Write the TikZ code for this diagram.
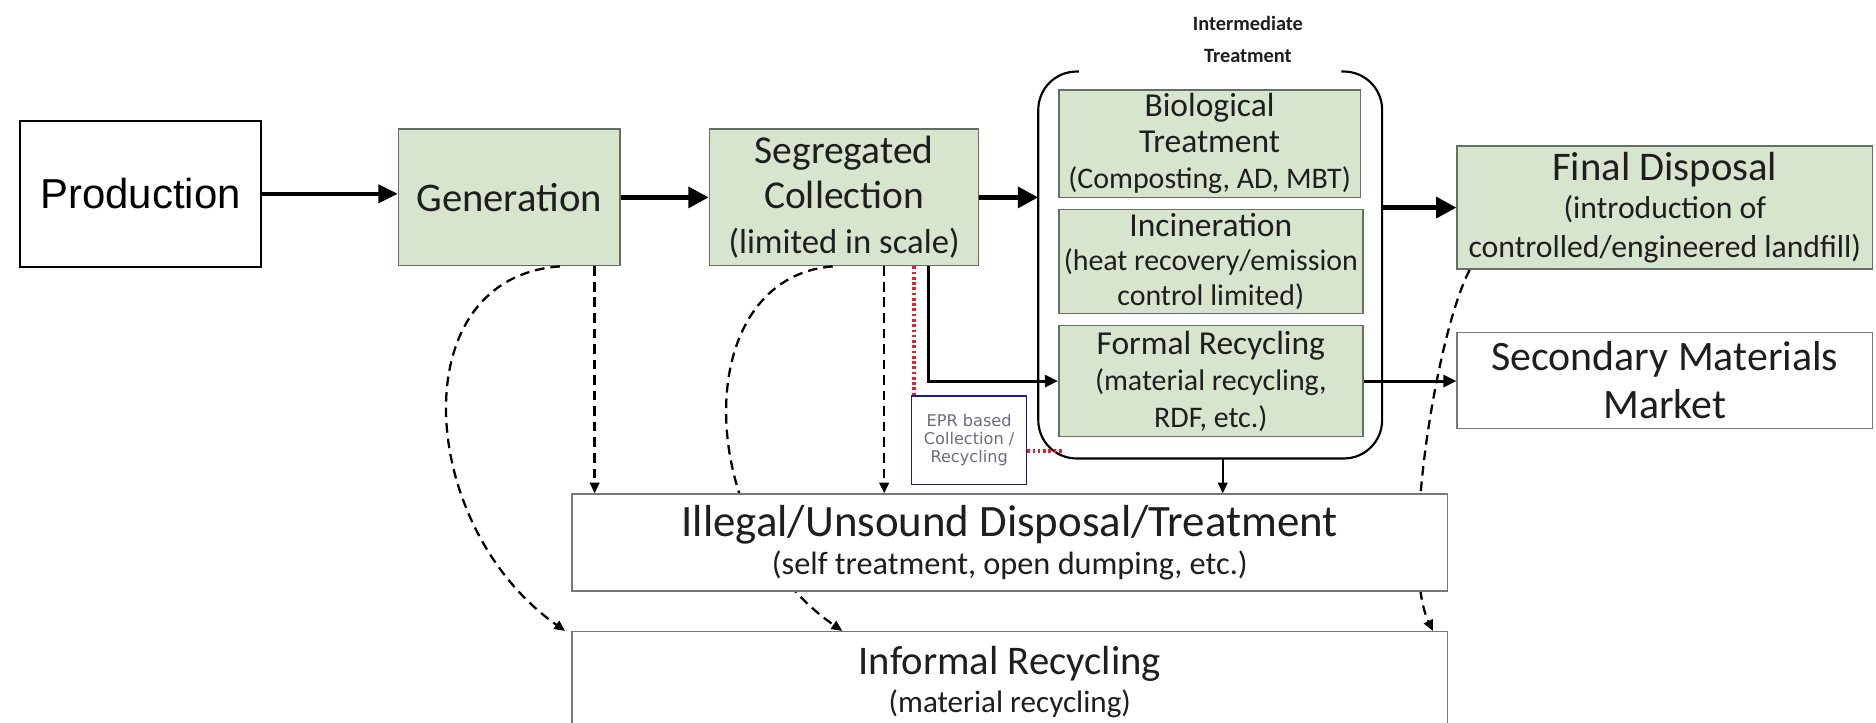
\documentclass[tikz,border=0pt]{standalone}
\usepackage{fontspec}
\setmainfont{Carlito}
\newfontfamily\arialfont{Liberation Sans}
\newfontfamily\eprfont{DejaVu Sans}
\usetikzlibrary{arrows.meta,calc}

\newcommand\setfs[2]{\fontsize{#1}{#2}\selectfont}

\definecolor{boxgreen}{RGB}{216,229,206}
\definecolor{greenedge}{RGB}{100,112,100}
\definecolor{greyedge}{RGB}{120,120,120}
\definecolor{eprblue}{RGB}{25,25,170}
\definecolor{eprred}{RGB}{232,30,45}
\definecolor{eprtext}{RGB}{105,110,125}
\definecolor{ink}{RGB}{30,30,30}

\begin{document}
\begin{tikzpicture}[x=1pt,y=-1pt,
  gbox/.style={draw=greenedge, fill=boxgreen, line width=1.3pt, inner sep=0pt,
    align=center, text=ink},
  wbox/.style={draw=greyedge, fill=white, line width=1.3pt, inner sep=0pt,
    align=center, text=ink},
  bigarrow/.style={line width=4.5pt, -{Triangle[length=17pt,width=17pt]}},
  midarrow/.style={line width=3pt, -{Triangle[length=16pt,width=15pt]}},
  thinarrow/.style={line width=2.4pt, -{Triangle[length=11pt,width=10pt]}},
  smallarrow/.style={line width=1.8pt, -{Triangle[length=9pt,width=8pt]}},
  dsh/.style={line width=1.9pt, dash pattern=on 8pt off 5pt,
    -{Triangle[length=9pt,width=8pt]}},
  eprlink/.style={eprred, line width=2.8pt, dash pattern=on 2.2pt off 2.2pt},
]
\useasboundingbox (0,0) rectangle (1568,604);
\fill[white] (0,0) rectangle (1568,604);

% main chain
\node[draw=black, line width=1.6pt, fill=white, minimum width=201pt, minimum height=122pt,
  inner sep=0pt, font=\arialfont\setfs{35}{40}] (Production) at (117.5,162) {Production};
\node[gbox, minimum width=185pt, minimum height=114pt, font=\setfs{34}{38}]
  (Generation) at (425.5,165) {Generation};
\node[gbox, minimum width=225pt, minimum height=114pt, font=\setfs{33}{37.5}]
  (Segregated) at (705.5,165) {Segregated\\Collection\\\fontsize{29}{37.5}\selectfont(limited in scale)};

% intermediate treatment group
\node[minimum width=287pt, minimum height=323pt, inner sep=0pt] (cont) at (1011.5,221.5) {};
\draw[line width=1.8pt, rounded corners=32pt]
  ($(cont.north west)+(34,0)$) -- (cont.north west) -- (cont.south west)
  -- (cont.south east) -- (cont.north east) -- ($(cont.north east)+(-34,0)$);
\node[font=\bfseries\setfs{17}{26}, align=center, text=ink] (itlabel) at (1043,33)
  {Intermediate\\Treatment};

\node[gbox, minimum width=252pt, minimum height=90pt, font=\setfs{28}{30}]
  (Biological) at (1011,120) {Biological\\Treatment\\\fontsize{25}{30}\selectfont(Composting, AD, MBT)};
\node[gbox, minimum width=254pt, minimum height=87pt, font=\setfs{28}{29}]
  (Incineration) at (1012,218.5) {Incineration\\\fontsize{25}{29}\selectfont(heat recovery/emission\\\fontsize{25}{29}\selectfont control limited)};
\node[gbox, minimum width=254pt, minimum height=93pt, font=\setfs{28}{30.5}]
  (Formal) at (1012,318.5) {Formal Recycling\\\fontsize{25}{30.5}\selectfont(material recycling,\\\fontsize{25}{30.5}\selectfont RDF, etc.)};

% right column
\node[gbox, minimum width=347pt, minimum height=103pt, font=\setfs{34}{32}]
  (Final) at (1391.5,173.5) {Final Disposal\\\fontsize{26.5}{30}\selectfont(introduction of\\\fontsize{26.5}{30}\selectfont controlled/engineered landfill)};
\node[wbox, minimum width=347pt, minimum height=80pt, font=\setfs{35}{40}]
  (Secondary) at (1391.5,318) {Secondary Materials\\Market};

% EPR box
\node[draw=eprblue, line width=1.3pt, fill=white, minimum width=96pt, minimum height=74pt,
  inner sep=0pt, align=center, text=eprtext, font=\eprfont\setfs{13.5}{15}]
  (EPR) at (810,368) {EPR based\\Collection /\\Recycling};

% dashed leakage curves (drawn before the boxes they pass behind)
\coordinate (g2) at ($(Generation.south)+(42.5,0)$);
\coordinate (s2) at ($(Segregated.south)+(-9.5,0)$);
\coordinate (f2) at ($(Final.south west)+(11,0)$);
\node[wbox, minimum width=732pt, minimum height=84pt, font=\setfs{34}{32}]
  (Informal) at (844,570) {Informal Recycling\\\fontsize{26}{32}\selectfont(material recycling)};
\coordinate (i1) at ($(Informal.north west)+(-5,0)$);
\coordinate (i2) at ($(Informal.north)+(-140,0)$);
\coordinate (i3) at ($(Informal.north east)+(-13,0)$);
\draw[dsh] (g2) .. controls (335,232) and (348,440) .. (i1);
\draw[dsh] (s2) .. controls (576,232) and (578,440) .. (i2);
\draw[dsh] (f2) .. controls (1200,280) and (1170,470) .. (i3);

\node[wbox, minimum width=732pt, minimum height=81pt, font=\setfs{37.5}{32}]
  (Illegal) at (844,453.5) {Illegal/Unsound Disposal/Treatment\\\fontsize{27}{32}\selectfont(self treatment, open dumping, etc.)};

% straight dashed drops
\draw[dsh] ($(Generation.south)+(71.5,0)$) coordinate (g1) -- (g1 |- Illegal.north);
\draw[dsh] ($(Segregated.south)+(33.5,0)$) coordinate (s1) -- (s1 |- Illegal.north);

% solid flows
\draw[midarrow] (Production.east) -- (Production.east -| Generation.west);
\draw[bigarrow] (Generation.east) -- (Generation.east -| Segregated.west);
\draw[bigarrow] (Segregated.east) -- (Segregated.east -| cont.west);
\draw[bigarrow] (cont.east |- Final.west) -- (Final.west);
\draw[thinarrow] (Formal.east) -- (Formal.east -| Secondary.west);
\draw[thinarrow] ($(Segregated.south)+(70.5,0)$) |- (Formal.west);
\draw[smallarrow] ($(cont.south)+(10.5,0)$) coordinate (c1) -- (c1 |- Illegal.north);

% EPR links
\coordinate (e1) at ($(Segregated.south)+(58.5,0)$);
\draw[eprlink] (e1) -- (e1 |- EPR.north);
\coordinate (e2) at ($(EPR.east)+(0,9)$);
\coordinate (e3) at ($(cont.south west)+(20,-6)$);
\draw[eprlink] (e2) -- (e2 -| e3);
\end{tikzpicture}
\end{document}
